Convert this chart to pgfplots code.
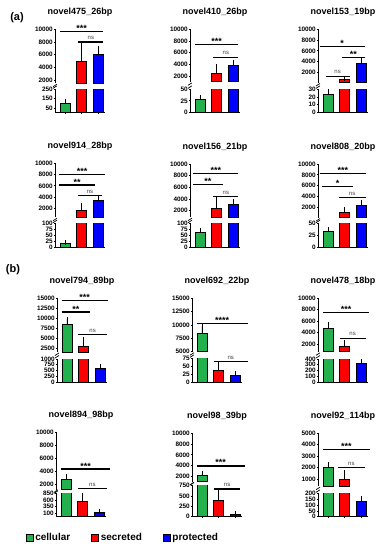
\documentclass[border=0pt]{standalone}
\usepackage{fontspec}
\setmainfont{Liberation Sans}
\usepackage{pgfplots}
\pgfplotsset{compat=1.18}
\definecolor{cg}{RGB}{34,177,76}
\definecolor{cr}{RGB}{255,0,0}
\definecolor{cb}{RGB}{0,0,255}
\pgfplotsset{
  seg/.style={scale only axis, width=50pt, xmin=0.4, xmax=3.4, clip mode=individual,
    tick align=outside, major tick length=2pt,
    every tick/.style={black, line width=0.7pt},
    yticklabel style={font=\fontsize{6.4}{6.4}\selectfont\bfseries, inner sep=1pt},
    /pgf/number format/1000 sep={}, /pgf/number format/assume math mode=true,
    scaled y ticks=false,
    title style={at={(0.5,1)}, anchor=base, yshift=9pt, inner sep=0pt, font=\fontsize{9}{9}\selectfont\bfseries},
  },
  up/.style={seg, axis x line=none, axis y line=left, xtick=\empty, axis line style={-, line width=0.9pt}},
  lo/.style={seg, axis x line=bottom, axis y line=left, xtick={1,2,3}, xticklabels={,,}, axis line style={-, line width=0.9pt}},
  bar/.style={ybar, bar width=10pt, bar shift=0pt, draw=black, line width=0.8pt,
    error bars/y dir=plus, error bars/y explicit,
    error bars/error bar style={black, line width=0.7pt},
    error bars/error mark options={black, mark size=2.5pt, line width=0.7pt}},
}
\newcommand\bars[6]{%
  \addplot[fill=cg, bar] coordinates {(1,#1) +- (0,#2)};
  \addplot[fill=cr, bar] coordinates {(2,#3) +- (0,#4)};
  \addplot[fill=cb, bar] coordinates {(3,#5) +- (0,#6)};}
\newcommand\sig[4]{\draw[line width=1.1pt] (axis cs:#1,#3) -- (axis cs:#2,#3) node[midway, anchor=base, inner sep=0pt, yshift=0pt, font=\fontsize{9}{9}\selectfont\bfseries] {#4};}
\newcommand\nsl[3]{\draw[line width=1.1pt] (axis cs:#1,#3) -- (axis cs:#2,#3) node[midway, anchor=base, inner sep=0pt, yshift=2.6pt, font=\fontsize{6}{6}\selectfont, text=black!75] {ns};}
\newcommand\brkup{\draw[line width=0.7pt] (rel axis cs:0,0) ++(-2pt,-3.5pt) -- ++(4pt,2.5pt);}
\newcommand\brklo{\draw[line width=0.7pt] (rel axis cs:0,1) ++(-2pt,1pt) -- ++(4pt,2.5pt);}
\begin{document}
\begin{tikzpicture}
\useasboundingbox (0,0) rectangle (384pt,-550pt);
\node[font=\fontsize{11}{11}\selectfont\bfseries] at (17pt,-18pt) {(a)};
\node[font=\fontsize{11}{11}\selectfont\bfseries] at (13pt,-270pt) {(b)};
% ---------- P1
\begin{axis}[up, at={(55pt,-83.2pt)}, anchor=south west, height=53.9pt, ymin=1500, ymax=10000, restrict y to domain=1500:100000, ytick={2000,4000,6000,8000,10000}, title={novel475\_26bp}]
\bars{100}{15}{5000}{2600}{6100}{900}
\sig{0.7}{3.3}{9700}{***}
\nsl{1.8}{3.3}{8000}
\brkup
\end{axis}
\begin{axis}[lo, at={(55pt,-112.7pt)}, anchor=south west, height=23.4pt, ymin=0, ymax=250, ytick={50,150,250}]
\bars{100}{15}{5000}{2600}{6100}{900}
\brklo
\end{axis}
% ---------- P2
\begin{axis}[up, at={(190pt,-81.8pt)}, anchor=south west, height=52.5pt, ymin=1000, ymax=10000, restrict y to domain=1000:100000, ytick={2000,4000,6000,8000,10000}, title={novel410\_26bp}]
\bars{28}{4}{2400}{1300}{3750}{600}
\sig{0.7}{3.3}{7400}{***}
\nsl{1.8}{3.3}{5200}
\brkup
\end{axis}
\begin{axis}[lo, at={(190pt,-112.3pt)}, anchor=south west, height=23pt, ymin=0, ymax=50, ytick={0,25,50}]
\bars{28}{4}{2400}{1300}{3750}{600}
\brklo
\end{axis}
% ---------- P3
\begin{axis}[up, at={(318pt,-82.5pt)}, anchor=south west, height=53.2pt, ymin=100, ymax=10000, restrict y to domain=100:100000, ytick={2000,4000,6000,8000,10000}, title={novel153\_19bp}]
\bars{24}{4}{600}{300}{3600}{550}
\sig{0.5}{3.2}{6770}{*}
\sig{1.85}{3.2}{4800}{**}
\nsl{0.85}{2.3}{1300}
\brkup
\end{axis}
\begin{axis}[lo, at={(318pt,-112.3pt)}, anchor=south west, height=23pt, ymin=0, ymax=30, ytick={0,10,20,30}]
\bars{24}{4}{600}{300}{3600}{550}
\brklo
\end{axis}
% ---------- P4
\begin{axis}[up, at={(55pt,-217.3pt)}, anchor=south west, height=54pt, ymin=400, ymax=10000, restrict y to domain=400:100000, ytick={2000,4000,6000,8000,10000}, title={novel914\_28bp}]
\bars{16}{4}{1550}{900}{3350}{350}
\sig{0.65}{3.4}{8040}{***}
\sig{0.65}{2.8}{6140}{**}
\nsl{1.8}{3.2}{4240}
\brkup
\end{axis}
\begin{axis}[lo, at={(55pt,-247pt)}, anchor=south west, height=23.3pt, ymin=0, ymax=100, ytick={0,25,50,75,100}]
\bars{16}{4}{1550}{900}{3350}{350}
\brklo
\end{axis}
% ---------- P5
\begin{axis}[up, at={(190pt,-217.1pt)}, anchor=south west, height=53.1pt, ymin=900, ymax=10000, restrict y to domain=900:100000, ytick={2000,4000,6000,8000,10000}, title={novel156\_21bp}]
\bars{63}{8}{2450}{1500}{3050}{500}
\sig{0.6}{3.3}{8400}{***}
\sig{0.6}{2.35}{6520}{**}
\nsl{1.8}{3.3}{4400}
\brkup
\end{axis}
\begin{axis}[lo, at={(190pt,-247pt)}, anchor=south west, height=23.3pt, ymin=0, ymax=100, ytick={0,25,50,75,100}]
\bars{63}{8}{2450}{1500}{3050}{500}
\brklo
\end{axis}
% ---------- P6
\begin{axis}[up, at={(318pt,-217.6pt)}, anchor=south west, height=53.6pt, ymin=100, ymax=10000, restrict y to domain=100:100000, ytick={2000,4000,6000,8000,10000}, title={novel808\_20bp}]
\bars{33}{5}{1000}{600}{2400}{500}
\sig{0.5}{3.3}{8280}{***}
\sig{0.65}{2.5}{5800}{*}
\nsl{1.65}{3.25}{3750}
\brkup
\end{axis}
\begin{axis}[lo, at={(318pt,-247pt)}, anchor=south west, height=23.3pt, ymin=0, ymax=50, ytick={0,25,50}]
\bars{33}{5}{1000}{600}{2400}{500}
\brklo
\end{axis}
% ---------- P7
\begin{axis}[up, at={(57pt,-352pt)}, anchor=south west, height=54pt, ymin=1500, ymax=15000, restrict y to domain=1500:100000, ytick={2500,5000,7500,10000,12500,15000}, title={novel794\_89bp}]
\bars{8400}{1300}{3000}{1700}{580}{100}
\sig{0.68}{3.45}{14400}{***}
\sig{0.68}{2.4}{11500}{**}
\nsl{1.68}{3.4}{5830}
\brkup
\end{axis}
\begin{axis}[lo, at={(57pt,-382pt)}, anchor=south west, height=23pt, ymin=0, ymax=1000, ytick={0,250,500,750,1000}]
\bars{8400}{1300}{3000}{1700}{580}{100}
\brklo
\end{axis}
% ---------- P8
\begin{axis}[up, at={(192pt,-351.7pt)}, anchor=south west, height=53.7pt, ymin=5000, ymax=15000, restrict y to domain=5000:100000, ytick={5000,7500,10000,12500,15000}, title={novel692\_22bp}]
\bars{8500}{1200}{36}{22}{20}{6}
\sig{0.68}{3.75}{10260}{****}
\brkup
\end{axis}
\begin{axis}[lo, at={(192pt,-382pt)}, anchor=south west, height=23.7pt, ymin=0, ymax=75, ytick={0,25,50,75}]
\bars{8500}{1200}{36}{22}{20}{6}
\nsl{1.7}{3.75}{64}
\brklo
\end{axis}
% ---------- P9
\begin{axis}[up, at={(318pt,-351.8pt)}, anchor=south west, height=53.8pt, ymin=700, ymax=10000, restrict y to domain=700:100000, ytick={2000,4000,6000,8000,10000}, title={novel478\_18bp}]
\bars{4750}{650}{1550}{800}{325}{45}
\sig{0.72}{3.45}{7460}{***}
\nsl{1.7}{3.25}{3040}
\brkup
\end{axis}
\begin{axis}[lo, at={(318pt,-382pt)}, anchor=south west, height=23pt, ymin=0, ymax=400, ytick={0,100,200,300,400}]
\bars{4750}{650}{1550}{800}{325}{45}
\brklo
\end{axis}
% ---------- P10
\begin{axis}[up, at={(56pt,-489.8pt)}, anchor=south west, height=57.1pt, ymin=1100, ymax=10000, restrict y to domain=1100:100000, ytick={2000,4000,6000,8000,10000}, title={novel894\_98bp}]
\bars{2700}{400}{530}{290}{150}{35}
\sig{0.72}{3.65}{4340}{***}
\nsl{1.72}{3.45}{1250}
\brkup
\end{axis}
\begin{axis}[lo, at={(56pt,-516pt)}, anchor=south west, height=22.7pt, ymin=0, ymax=850, ytick={100,350,600,850}]
\bars{2700}{400}{530}{290}{150}{35}
\brklo
\end{axis}
% ---------- P11
\begin{axis}[up, at={(192pt,-481.6pt)}, anchor=south west, height=48.6pt, ymin=1100, ymax=10000, restrict y to domain=1100:100000, ytick={2000,4000,6000,8000,10000}, title={novel98\_39bp}]
\bars{2150}{400}{390}{230}{65}{15}
\sig{0.68}{3.55}{3960}{***}
\brkup
\end{axis}
\begin{axis}[lo, at={(192pt,-516.7pt)}, anchor=south west, height=31pt, ymin=0, ymax=750, ytick={0,250,500,750}]
\bars{2150}{400}{390}{230}{65}{15}
\nsl{1.72}{3.3}{670}
\brklo
\end{axis}
% ---------- P12
\begin{axis}[up, at={(318pt,-486.2pt)}, anchor=south west, height=53.2pt, ymin=400, ymax=5000, restrict y to domain=400:100000, ytick={1000,2000,3000,4000,5000}, title={novel92\_114bp}]
\bars{2000}{320}{1000}{550}{135}{22}
\sig{0.72}{3.5}{3600}{***}
\nsl{1.6}{3.2}{2000}
\brkup
\end{axis}
\begin{axis}[lo, at={(318pt,-516.7pt)}, anchor=south west, height=23.4pt, ymin=0, ymax=200, ytick={0,50,100,150,200}]
\bars{2000}{320}{1000}{550}{135}{22}
\brklo
\end{axis}
% ---------- legend
\begin{axis}[at={(0pt,-550pt)}, anchor=south west, scale only axis, width=384pt, height=30pt, hide axis, xmin=0, xmax=1, ymin=0, ymax=1,
  legend style={at={(0.32,0.4)}, anchor=center, draw=none, fill=none, legend columns=3,
    font=\fontsize{10}{10}\selectfont\bfseries, /tikz/every even column/.append style={column sep=19pt}},
  legend cell align=left]
\addlegendimage{legend image code/.code={\draw[fill=cg,draw=black,line width=0.5pt] (0pt,-3.5pt) rectangle (7pt,3.5pt);}}
\addlegendentry{cellular}
\addlegendimage{legend image code/.code={\draw[fill=cr,draw=black,line width=0.5pt] (0pt,-3.5pt) rectangle (7pt,3.5pt);}}
\addlegendentry{secreted}
\addlegendimage{legend image code/.code={\draw[fill=cb,draw=black,line width=0.5pt] (0pt,-3.5pt) rectangle (7pt,3.5pt);}}
\addlegendentry{protected}
\end{axis}
\end{tikzpicture}
\end{document}
